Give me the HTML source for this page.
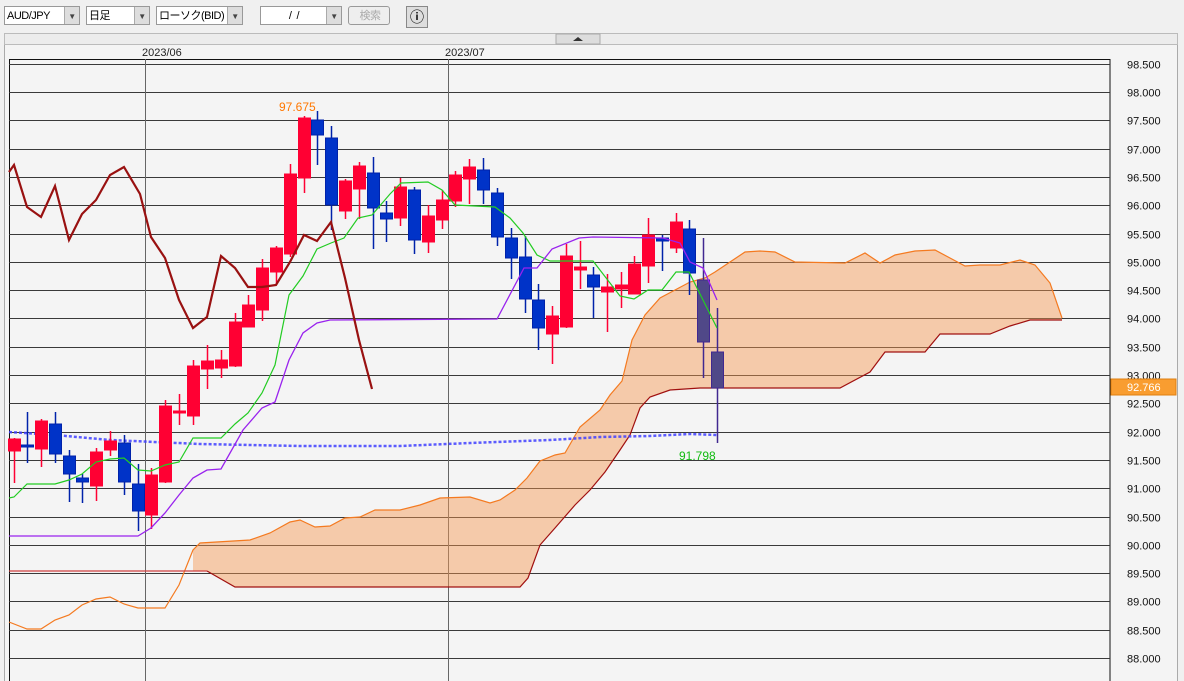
<!DOCTYPE html>
<html><head><meta charset="utf-8"><style>
body{margin:0;width:1184px;height:681px;overflow:hidden;background:#f0f0f0;font-family:"Liberation Sans","Noto Sans CJK JP",sans-serif;}
.sel{position:absolute;top:6px;height:19px;border:1px solid #999;background:#fff;font-size:11px;line-height:19px;box-sizing:border-box;padding-left:2px;white-space:nowrap;overflow:hidden;letter-spacing:-0.5px}
.arr{position:absolute;right:0;top:0;width:14px;height:17px;background:#ddd;border-left:1px solid #aaa;font-size:8px;text-align:center;color:#444}
</style></head><body>
<div class="sel" style="left:4px;width:76px">AUD/JPY<div class="arr">▼</div></div>
<div class="sel" style="left:86px;width:64px">日足<div class="arr">▼</div></div>
<div class="sel" style="left:156px;width:87px">ローソク(BID)<div class="arr">▼</div></div>
<div class="sel" style="left:260px;width:82px;text-align:center;padding-right:16px">/ &nbsp;/<div class="arr">▼</div></div>
<div class="sel" style="left:348px;width:42px;background:#eee;color:#aaa;text-align:center;border-radius:3px">検索</div>
<div style="position:absolute;left:406px;top:6px;width:20px;height:20px;border:1px solid #888;background:#ddd;font-size:14px;font-weight:bold;text-align:center;line-height:20px">ⓘ</div>
<svg id="s" width="1184" height="681" style="position:absolute;left:0;top:0" font-family="Liberation Sans, sans-serif"></svg>
<script>
var s='';
s+='<rect x="4.5" y="33.5" width="1173" height="660" fill="#f4f4f4" stroke="#aaa"/>';
s+='<rect x="4.5" y="33.5" width="1173" height="11" fill="#ececec" stroke="#bbb"/>';
s+='<rect x="556" y="34" width="44" height="10" fill="#ddd" stroke="#aaa"/><path d="M573 41 L578 37 L583 41Z" fill="#333"/>';
s+='<text x="142" y="56" font-size="11" fill="#222">2023/06</text><text x="445" y="56" font-size="11" fill="#222">2023/07</text>';
s+='<rect x="9.5" y="59.5" width="1100.5" height="640" fill="none" stroke="#111"/>';
for(var k=0;k<22;k++){var y=Math.round(63.7+28.3*k)+0.5;s+='<line x1="9" x2="1110" y1="'+y+'" y2="'+y+'" stroke="#3a3a3a"/>';
var p=(98.5-0.5*k).toFixed(3);s+='<text x="1127" y="'+(y+4)+'" font-size="11" fill="#111">'+p+'</text>';}
s+='<line x1="145.5" x2="145.5" y1="59" y2="681" stroke="#666"/><line x1="448.5" x2="448.5" y1="59" y2="681" stroke="#666"/>';
function pl(pts,c,w,extra){return '<polyline fill="none" stroke="'+c+'" stroke-width="'+w+'" '+(extra||'')+' points="'+pts.map(function(p){return p.join(',')}).join(' ')+'"/>';}
var A=[[193,550],[200,543],[250,540],[270,533],[290,522],[300,520],[315,527],[330,526],[345,518],[360,517],[375,510],[400,510],[420,505],[440,498],[470,497],[490,503],[500,500],[515,490],[527,478],[540,461],[555,455],[565,453],[580,427],[600,410],[610,395],[622,381],[632,340],[645,315],[660,298],[675,290],[690,282],[705,278],[715,272],[730,262],[745,252],[760,251],[775,252],[795,262],[845,263],[865,253],[880,263],[895,255],[915,251],[935,250],[950,258],[965,266],[980,265],[1000,265],[1020,260],[1035,265],[1050,283],[1062,318]];
var B=[[193,571],[207,571],[235,587],[520,587],[528,578],[540,545],[555,528],[575,505],[590,490],[605,472],[620,450],[630,435],[640,408],[650,397],[670,390],[700,388],[840,388],[870,372],[885,352],[925,352],[940,334],[990,334],[1010,326],[1030,320],[1062,320]];
var poly=A.concat(B.slice().reverse());
s+='<polygon fill="rgba(247,150,80,0.45)" points="'+poly.map(function(p){return p.join(',')}).join(' ')+'"/>';
s+=pl([[9,622],[27,629],[41,629],[55,620],[69,615],[82,605],[96,599],[110,597],[124,604],[138,608],[165,608],[179,585],[193,550]].concat(A),'#f47a20',1.2);
s+=pl([[9,571],[207,571]],'#d04040',1.2)+pl(B.slice(1),'#a01010',1.2);
s+=pl([[9,432],[55,435],[110,440],[200,444],[300,446],[400,446],[470,443],[550,440],[600,437],[650,436],[690,434],[717,435]],'#4040ff',2.5,'stroke-dasharray="3,2" opacity="0.85"');
var C=[[14,439,451,438,483,'r'],[27,445,447,412,463,'b'],[41,421,449,419,467,'r'],[55,424,454,412,463,'b'],[69,456,474,450,502,'b'],[82,478,482,474,503,'b'],[96,452,486,448,501,'r'],[110,441,450,431,456,'r'],[124,443,482,435,495,'b'],[138,484,511,464,531,'b'],[151,475,515,468,529,'r'],[165,406,482,400,483,'r'],[179,411,413,394,425,'r'],[193,366,416,360,425,'r'],[207,361,369,345,389,'r'],[221,360,368,350,378,'r'],[235,322,366,313,367,'r'],[248,305,327,295,327,'r'],[262,268,310,259,321,'r'],[276,248,272,246,285,'r'],[290,174,254,164,257,'r'],[304,118,178,116,193,'r'],[317,120,135,111,165,'b'],[331,138,205,126,230,'b'],[345,181,211,179,219,'r'],[359,166,189,162,219,'r'],[373,173,208,157,249,'b'],[386,213,219,201,242,'b'],[400,187,218,178,226,'r'],[414,190,240,187,254,'b'],[428,216,242,205,253,'r'],[442,200,220,190,229,'r'],[455,175,201,171,207,'r'],[469,167,179,159,204,'r'],[483,170,190,158,204,'b'],[497,193,237,188,246,'b'],[511,238,258,228,279,'b'],[525,257,299,236,313,'b'],[538,300,328,284,350,'b'],[552,316,334,306,364,'r'],[566,256,327,244,328,'r'],[580,267,270,241,289,'r'],[593,275,287,267,318,'b'],[607,287,292,274,332,'r'],[621,285,289,272,308,'r'],[634,264,294,256,294,'r'],[648,235,266,218,283,'r'],[662,238,241,235,271,'b'],[676,222,248,213,253,'r'],[689,229,273,220,295,'b'],[703,280,342,238,378,'p'],[717,352,388,308,443,'p']];
C.forEach(function(c){var col=c[5]=='r'?'#ff0033':(c[5]=='b'?'#0033c8':'#504888');var st=c[5]=='r'?'#ff0033':(c[5]=='b'?'#0022aa':'#402890');
s+='<line x1="'+(c[0]+0.5)+'" x2="'+(c[0]+0.5)+'" y1="'+c[3]+'" y2="'+c[4]+'" stroke="'+st+'" stroke-width="1.5"/>';
var h=Math.max(2,c[2]-c[1]);s+='<rect x="'+(c[0]-5.5)+'" y="'+c[1]+'" width="12" height="'+h+'" fill="'+col+'" stroke="'+st+'"/>';});
s+=pl([[9,498],[14,497],[27,484],[55,484],[69,480],[82,474],[96,462],[110,459],[124,458],[138,470],[151,471],[165,465],[179,462],[193,438],[221,438],[235,424],[248,413],[262,393],[275,365],[289,295],[303,276],[317,249],[331,243],[344,238],[358,218],[372,215],[390,194],[401,183],[428,182],[442,190],[455,205],[495,207],[510,218],[523,233],[537,255],[550,261],[593,261],[620,296],[634,299],[648,290],[662,290],[676,272],[689,272],[717,328]],'#22cc22',1.2);
s+=pl([[9,536],[138,536],[151,528],[165,513],[179,495],[193,478],[207,470],[221,469],[243,430],[262,408],[275,402],[289,360],[303,333],[317,323],[330,320],[497,319],[524,268],[537,268],[552,249],[579,238],[593,237],[663,238],[680,243],[690,262],[703,268],[717,300]],'#9922ee',1.3);
s+=pl([[9,172],[14,165],[27,207],[41,217],[55,186],[69,240],[82,214],[96,200],[110,175],[124,167],[140,194],[151,237],[165,258],[179,300],[193,328],[207,317],[221,256],[235,268],[248,287],[262,287],[276,285],[290,262],[304,235],[317,241],[331,222],[345,278],[359,340],[372,389]],'#991111',2.2);
s+='<text x="279" y="111" font-size="12" fill="#ff7700">97.675</text><text x="679" y="460" font-size="12" fill="#11bb11">91.798</text>';
s+='<rect x="1111" y="379" width="65" height="16" fill="#f99d30" stroke="#e08010"/><text x="1127" y="391" font-size="11" fill="#fff">92.766</text>';
document.getElementById('s').innerHTML=s;
</script>
</body></html>
